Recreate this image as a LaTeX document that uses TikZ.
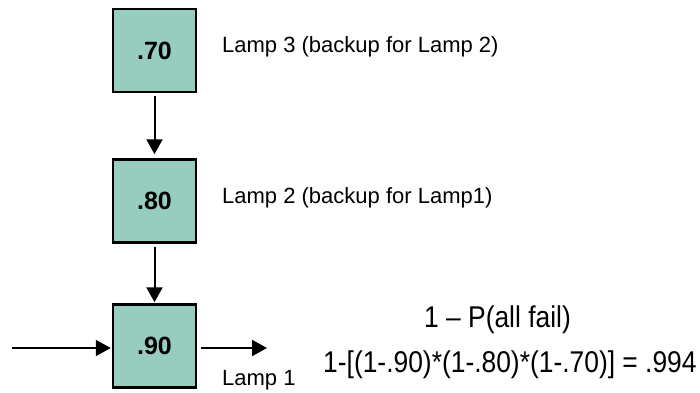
\documentclass[tikz,border=0pt]{standalone}
\usepackage{fontspec}
\setmainfont{Liberation Sans}
\usetikzlibrary{arrows.meta}
\definecolor{lampfill}{RGB}{150,205,190}
\newcommand{\sumtext}[1]{\scalebox{0.88}[1]{#1}}
\tikzset{
  lamp/.style={draw,line width=2.5pt,fill=lampfill,minimum size=83pt,inner sep=0pt,
    font=\bfseries\fontsize{25}{30}\selectfont},
  note/.style={anchor=base west,inner sep=0pt,font=\fontsize{22}{26}\selectfont},
  sum/.style={inner sep=0pt,font=\fontsize{30}{36}\selectfont},
  wire/.style={line width=2pt,-{Triangle[length=15pt,width=16pt]}}
}
\begin{document}
\begin{tikzpicture}[x=1pt,y=-1pt]
    \useasboundingbox (0,0) rectangle (700,392);
    \node [lamp] (L3) at (154.5,50.5) {.70};
    \node [lamp] (L2) at (154.5,201) {.80};
    \node [lamp] (L1) at (154.5,346) {.90};
    \coordinate (in) at (12,348);
    \coordinate (out) at (267,348);
    \node [note] (n3) at (222,52) {Lamp 3 (backup for Lamp 2)};
    \node [note] (n2) at (222,203) {Lamp 2 (backup for Lamp1)};
    \node [note] (n1) at (222,385) {Lamp 1};
    \node [sum,anchor=base] (fail) at (497.5,327) {\sumtext{1 – P(all fail)}};
    \node [sum,anchor=base west] (calc) at (323,372) {\sumtext{1-[(1-.90)*(1-.80)*(1-.70)] = .994}};
    \draw [wire,shorten <=3pt,shorten >=4pt] (L3.south) -- (L2.north);
    \draw [wire,shorten <=3pt,shorten >=1pt] (L2.south) -- (L1.north);
    \draw [wire,shorten >=1pt] (in) -- (L1.west |- in);
    \draw [wire,shorten <=4pt] (L1.east |- out) -- (out);
\end{tikzpicture}
\end{document}
